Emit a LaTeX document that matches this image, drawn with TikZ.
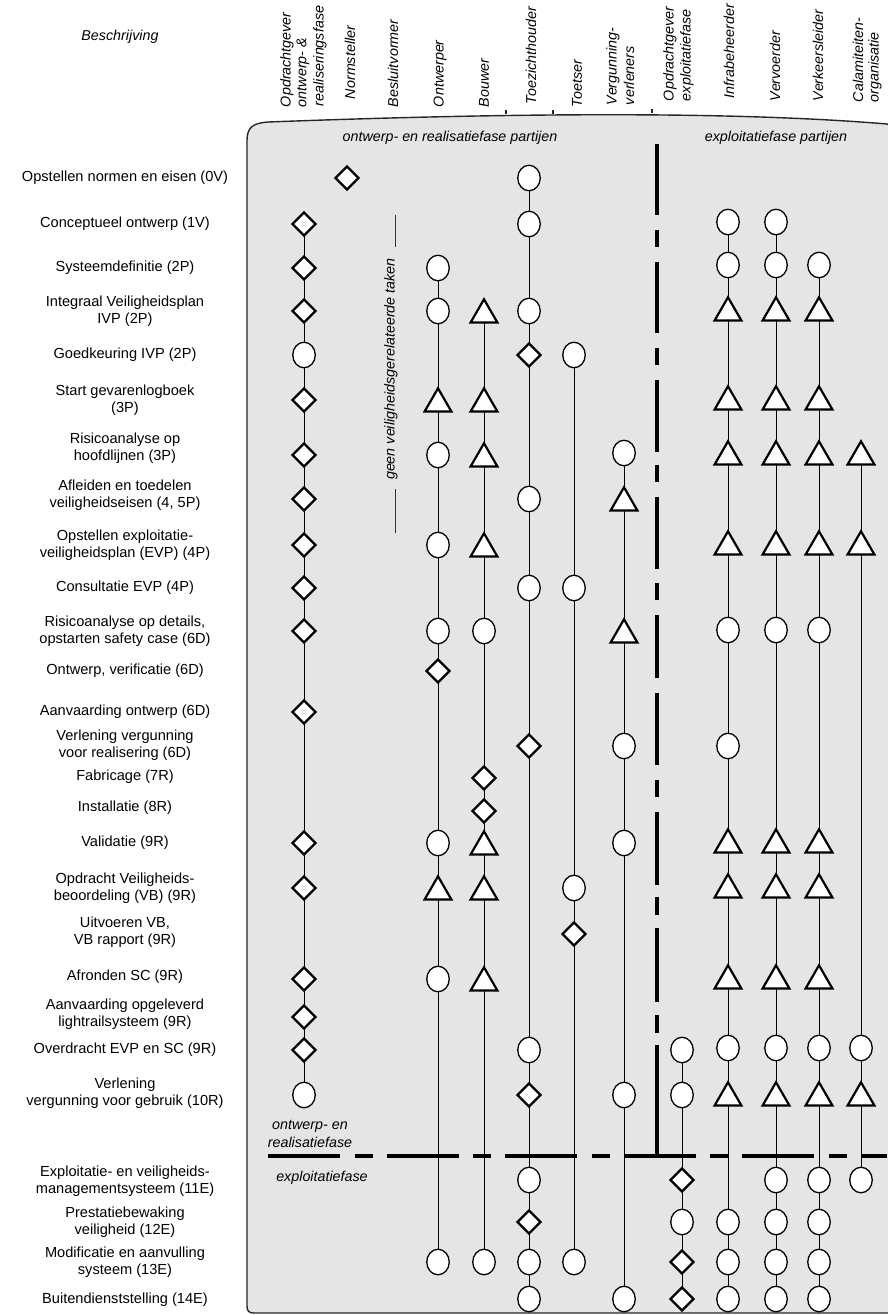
\documentclass[tikz,border=0pt]{standalone}
\usepackage{fontspec}
\setmainfont{Liberation Sans}
\usetikzlibrary{shapes.geometric}
\pgfdeclarelayer{box}
\pgfdeclarelayer{links}
\pgfsetlayers{box,links,main}

% one role column: prefix, x position, list of symbol/y pairs
\newcommand{\rolecolumn}[3]{%
  \foreach \s/\y [count=\i, remember=\i as \j (initially 0)] in {#3} {%
    \node[\s] (#1-\i) at (#2,\y) {};
    \ifnum\i>1
      \begin{pgfonlayer}{links}\draw[link] (#1-\j) -- (#1-\i);\end{pgfonlayer}
    \fi
  }%
}

\begin{document}
\begin{tikzpicture}[x=1pt,y=-1pt,
  every node/.style={inner sep=0pt, outer sep=0pt},
  ci/.style={ellipse, draw=black, fill=white, line width=1.3pt,
    minimum width=22.5pt, minimum height=25.5pt},
  dm/.style={diamond, draw=black, fill=white, line width=2.2pt,
    minimum width=23pt, minimum height=23pt},
  tr/.style={regular polygon, regular polygon sides=3, draw=black, fill=white,
    line width=2.2pt, minimum size=31pt, yshift=-3.8pt},
  link/.style={line width=0.9pt, black},
  lab/.style={font=\fontsize{14.6}{17}\selectfont, align=center},
  ital/.style={font=\fontsize{14.3}{17.5}\selectfont\itshape, align=center},
  head/.style={ital, rotate=90, anchor=west},
  divider/.style={line width=3.2pt, black},
]
\useasboundingbox (0,0) rectangle (887,1315);

% grey panel behind the matrix
\begin{pgfonlayer}{box}
\filldraw[fill=black!10, draw=black!85, line width=1.4pt]
  (247,1306) -- (247,140)
  .. controls (247,126) and (255,123) .. (268,122)
  .. controls (480,114) and (720,110) .. (887,124)
  .. controls (892,126) and (896,130) .. (896,138)
  -- (896,1313) -- (254,1313)
  .. controls (249,1313) and (247,1311) .. (247,1306) -- cycle;
% stubs of the heading separators on the panel edge
\foreach \x/\y in {506/114, 553/113.5, 652/113}
  \draw[line width=1.2pt, black!85] (\x,\y-4) -- (\x,\y);
\end{pgfonlayer}

% column headings
\node[ital] (desc) at (120,37) {Beschrijving};
\node[head] (h1a) at (287,107) {Opdrachtgever};
\node[head] (h1b) at (303,107) {ontwerp- \&};
\node[head] (h1c) at (320,106) {realiseringsfase};
\node[head] (h2) at (350,99) {Normsteller};
\node[head] (h3) at (393,107) {Besluitvormer};
\node[head] (h4) at (440,107) {Ontwerper};
\node[head] (h5) at (484,107) {Bouwer};
\node[head] (h6) at (531,104) {Toezichthouder};
\node[head] (h7) at (577,107) {Toetser};
\node[head] (h8a) at (613,105) {Vergunning-};
\node[head] (h8b) at (629,105) {verleners};
\node[head] (h9a) at (670,101) {Opdrachtgever};
\node[head] (h9b) at (687,101) {exploitatiefase};
\node[head] (h10) at (729,98) {Infrabeheerder};
\node[head] (h11) at (775,101) {Vervoerder};
\node[head] (h12) at (818,101) {Verkeersleider};
\node[head] (h13a) at (858,102) {Calamiteiten-};
\node[head] (h13b) at (875,102) {organisatie};

% phase captions
\node[ital] (p1) at (450,138) {ontwerp- en realisatiefase partijen};
\node[ital] (p2) at (776,138) {exploitatiefase partijen};
\node[ital] (p3) at (310,1134) {ontwerp- en\\realisatiefase};
\node[ital] (p4) at (322,1178) {exploitatiefase};

% activity descriptions
\node[lab] (t0) at (125,178) {Opstellen normen en eisen (0V)};
\node[lab] (t1) at (125,224) {Conceptueel ontwerp (1V)};
\node[lab] (t2) at (125,268) {Systeemdefinitie (2P)};
\node[lab] (t3) at (125,311) {Integraal Veiligheidsplan\\IVP (2P)};
\node[lab] (t4) at (125,355) {Goedkeuring IVP (2P)};
\node[lab] (t5) at (125,400) {Start gevarenlogboek\\(3P)};
\node[lab] (t6) at (125,448) {Risicoanalyse op\\hoofdlijnen (3P)};
\node[lab] (t7) at (125,495) {Afleiden en toedelen\\veiligheidseisen (4, 5P)};
\node[lab] (t8) at (125,545) {Opstellen exploitatie-\\veiligheidsplan (EVP) (4P)};
\node[lab] (t9) at (125,588) {Consultatie EVP (4P)};
\node[lab] (t10) at (125,631) {Risicoanalyse op details,\\opstarten safety case (6D)};
\node[lab] (t11) at (125,671) {Ontwerp, verificatie (6D)};
\node[lab] (t12) at (125,712) {Aanvaarding ontwerp (6D)};
\node[lab] (t13) at (125,745) {Verlening vergunning\\voor realisering (6D)};
\node[lab] (t14) at (125,777) {Fabricage (7R)};
\node[lab] (t15) at (125,808) {Installatie (8R)};
\node[lab] (t16) at (125,843) {Validatie (9R)};
\node[lab] (t17) at (125,888) {Opdracht Veiligheids-\\beoordeling (VB) (9R)};
\node[lab] (t18) at (125,932) {Uitvoeren VB,\\VB rapport (9R)};
\node[lab] (t19) at (125,977) {Afronden SC (9R)};
\node[lab] (t20) at (125,1014) {Aanvaarding opgeleverd\\lightrailsysteem (9R)};
\node[lab] (t21) at (125,1050) {Overdracht EVP en SC (9R)};
\node[lab] (t22) at (125,1093) {Verlening\\vergunning voor gebruik (10R)};
\node[lab] (t23) at (125,1181) {Exploitatie- en veiligheids-\\managementsysteem (11E)};
\node[lab] (t24) at (125,1222) {Prestatiebewaking\\veiligheid (12E)};
\node[lab] (t25) at (125,1262) {Modificatie en aanvulling\\systeem (13E)};
\node[lab] (t26) at (125,1300) {Buitendienststelling (14E)};

% note in the decision-maker column
\node[ital, rotate=90] (geen) at (391,369) {geen veiligheidsgerelateerde taken};
\draw[line width=0.8pt, black!80] (395,215) -- (395,247);
\draw[line width=0.8pt, black!80] (395,489) -- (395,533);

% phase dividers
\foreach \a/\b in {144/215,230/247,262/333,348/365,380/452,465/482,497/569,
  583/600,615/678,693/765,780/797,812/885,897/915,928/1002,1015/1033,1045/1158}
  \draw[divider] (657,\a) -- (657,\b);
\draw[divider, dash pattern=on 72pt off 14.5pt on 18pt off 14pt] (268,1156) -- (887,1156);

% role columns
\rolecolumn{og}{304}{dm/224,dm/268,dm/311,ci/355,dm/400,dm/455,dm/499,dm/545,dm/588,
  dm/631,dm/712,dm/843,dm/888,dm/979,dm/1017,dm/1050,ci/1095}
\rolecolumn{ns}{347}{dm/178}
\rolecolumn{ow}{438}{ci/268,ci/311,tr/400,ci/455,ci/545,ci/631,dm/671,ci/843,tr/888,
  ci/979,ci/1262}
\rolecolumn{bw}{484}{tr/311,tr/400,tr/455,tr/545,ci/631,dm/778,dm/811,tr/843,tr/888,
  tr/979,ci/1262}
\rolecolumn{tz}{529}{ci/178,ci/224,ci/311,dm/355,ci/499,ci/588,dm/746,ci/1050,dm/1095,
  ci/1180,dm/1222,ci/1262,ci/1299}
\rolecolumn{ts}{574}{ci/355,ci/588,ci/888,dm/934,ci/1262}
\rolecolumn{vg}{624}{ci/453,tr/499,tr/631,ci/746,ci/843,ci/1095,ci/1299}
\rolecolumn{oe}{682}{ci/1050,ci/1095,dm/1180,ci/1222,dm/1262,dm/1299}
\rolecolumn{ib}{728}{ci/222,ci/265,tr/309,tr/398,tr/453,tr/543,ci/630,ci/746,tr/841,
  tr/886,tr/977,ci/1048,tr/1094,ci/1222,ci/1262,ci/1299}
\rolecolumn{vv}{776}{ci/222,ci/265,tr/309,tr/398,tr/453,tr/543,ci/630,tr/841,tr/886,
  tr/977,ci/1048,tr/1094,ci/1180,ci/1222,ci/1262,ci/1299}
\rolecolumn{vl}{819}{ci/265,tr/309,tr/398,tr/453,tr/543,ci/630,tr/841,tr/886,tr/977,
  ci/1048,tr/1094,ci/1180,ci/1222,ci/1262,ci/1299}
\rolecolumn{co}{861}{tr/453,tr/543,ci/1048,tr/1094,ci/1180}
\end{tikzpicture}
\end{document}
